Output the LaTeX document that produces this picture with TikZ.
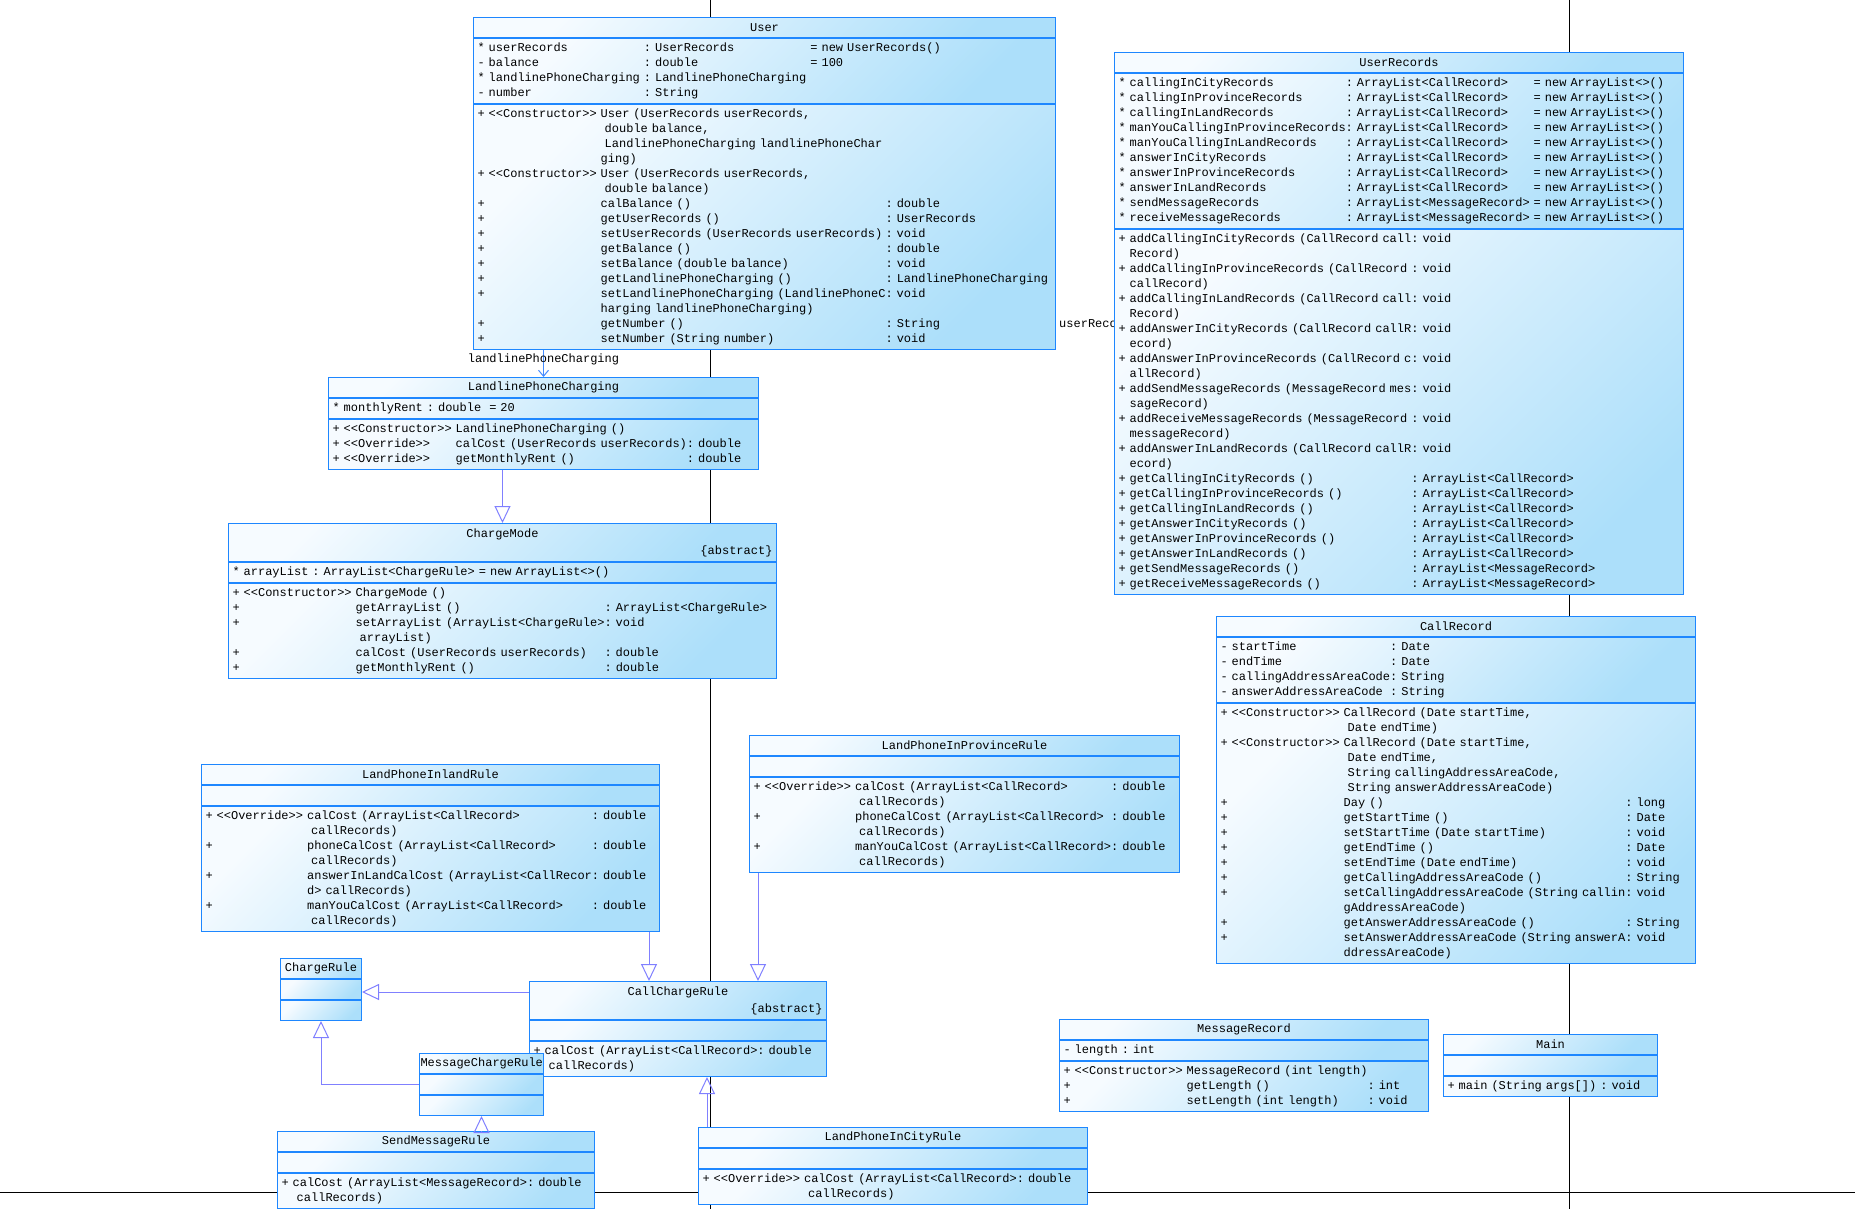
\documentclass[tikz,border=0pt]{standalone}
\usepackage{fontspec}
\usepackage{tikz}
\usetikzlibrary{arrows.meta, positioning}
\newfontfamily\umlfont{Liberation Mono}
\newcommand{\umlfnt}{\umlfont\fontsize{12}{15}\selectfont\frenchspacing}
\definecolor{umlborder}{RGB}{30,135,255}
\definecolor{umlpale}{RGB}{246,251,255}
\definecolor{umlblue}{RGB}{172,223,250}
\definecolor{umlline}{RGB}{128,128,255}
\definecolor{umlassoc}{RGB}{70,140,255}
\newcommand{\stc}{<\kern0pt<Constructor>\kern0pt>}
\newcommand{\sto}{<\kern0pt<Override>\kern0pt>}

\begin{document}
\begin{tikzpicture}[x=1pt, y=-1pt, node distance=0pt,
    classpart/.style={draw=umlborder, line width=1pt, top color=umlpale, bottom color=umlblue, shading angle=45,
        inner xsep=4pt, inner ysep=2.5pt, anchor=north west, align=left, font=\umlfnt},
    classtitle/.style={classpart, align=center, minimum height=20pt},
    classempty/.style={classpart, minimum height=20pt},
    inherit/.style={draw=umlline, line width=1pt, -{Triangle[open, length=17pt, width=16pt]}},
    assoc/.style={draw=umlassoc, line width=1pt, -{Straight Barb[length=6pt, width=10pt]}},
    pageline/.style={draw=black, line width=0.9pt},
    rolename/.style={font=\umlfnt, inner sep=1pt}
]
    \path[use as bounding box, fill=white] (0,0) rectangle (1855,1209);

    % page borders
    \draw[pageline] (710,0) -- (710,1209);
    \draw[pageline] (1569,0) -- (1569,1209);
    \draw[pageline] (0,1192) -- (1855,1192);

    % User
    \node[classtitle, text width=574pt] (user) at (473,17) {User};
    \node[classpart, text width=574pt, below=of user] (user-at) {\begin{tabular}{@{}l@{~}l@{~}l@{~}l@{~}l@{}}
{*} & userRecords & : & UserRecords & = new UserRecords()\\
- & balance & : & double & = 100\\
{*} & landlinePhoneCharging & : & LandlinePhoneCharging & \\
- & number & : & String &
\end{tabular}};
    \node[classpart, text width=574pt, below=of user-at] (user-op) {\begin{tabular}{@{}l@{~}l@{~}l@{}l@{}}
+ & \stc & User (UserRecords userRecords, & \\
 & & ~double balance, & \\
 & & ~LandlinePhoneCharging landlinePhoneChar & \\
 & & ging) & \\
+ & \stc & User (UserRecords userRecords, & \\
 & & ~double balance) & \\
+ & & calBalance () & : double\\
+ & & getUserRecords () & : UserRecords\\
+ & & setUserRecords (UserRecords userRecords) & : void\\
+ & & getBalance () & : double\\
+ & & setBalance (double balance) & : void\\
+ & & getLandlinePhoneCharging () & : LandlinePhoneCharging\\
+ & & setLandlinePhoneCharging (LandlinePhoneC & : void\\
 & & harging landlinePhoneCharging) & \\
+ & & getNumber () & : String\\
+ & & setNumber (String number) & : void
\end{tabular}};
    \begin{scope}
        \clip (1056,300) rectangle (1114,340);
        \node[rolename, anchor=base west] (ur-role) at (1058,327) {userRecords};
    \end{scope}

    % UserRecords
    \node[classtitle, text width=561pt] (urec) at (1114,52) {UserRecords};
    \node[classpart, text width=561pt, below=of urec] (urec-at) {\begin{tabular}{@{}l@{~}l@{}l@{~}l@{~}l@{}}
{*} & callingInCityRecords & : & ArrayList<CallRecord> & = new ArrayList<>()\\
{*} & callingInProvinceRecords & : & ArrayList<CallRecord> & = new ArrayList<>()\\
{*} & callingInLandRecords & : & ArrayList<CallRecord> & = new ArrayList<>()\\
{*} & manYouCallingInProvinceRecords & : & ArrayList<CallRecord> & = new ArrayList<>()\\
{*} & manYouCallingInLandRecords & : & ArrayList<CallRecord> & = new ArrayList<>()\\
{*} & answerInCityRecords & : & ArrayList<CallRecord> & = new ArrayList<>()\\
{*} & answerInProvinceRecords & : & ArrayList<CallRecord> & = new ArrayList<>()\\
{*} & answerInLandRecords & : & ArrayList<CallRecord> & = new ArrayList<>()\\
{*} & sendMessageRecords & : & ArrayList<MessageRecord> & = new ArrayList<>()\\
{*} & receiveMessageRecords & : & ArrayList<MessageRecord> & = new ArrayList<>()
\end{tabular}};
    \node[classpart, text width=561pt, below=of urec-at] (urec-op) {\begin{tabular}{@{}l@{~}l@{}l@{}}
+ & addCallingInCityRecords (CallRecord call & : void\\
 & Record) & \\
+ & addCallingInProvinceRecords (CallRecord & : void\\
 & callRecord) & \\
+ & addCallingInLandRecords (CallRecord call & : void\\
 & Record) & \\
+ & addAnswerInCityRecords (CallRecord callR & : void\\
 & ecord) & \\
+ & addAnswerInProvinceRecords (CallRecord c & : void\\
 & allRecord) & \\
+ & addSendMessageRecords (MessageRecord mes & : void\\
 & sageRecord) & \\
+ & addReceiveMessageRecords (MessageRecord & : void\\
 & messageRecord) & \\
+ & addAnswerInLandRecords (CallRecord callR & : void\\
 & ecord) & \\
+ & getCallingInCityRecords () & : ArrayList<CallRecord>\\
+ & getCallingInProvinceRecords () & : ArrayList<CallRecord>\\
+ & getCallingInLandRecords () & : ArrayList<CallRecord>\\
+ & getAnswerInCityRecords () & : ArrayList<CallRecord>\\
+ & getAnswerInProvinceRecords () & : ArrayList<CallRecord>\\
+ & getAnswerInLandRecords () & : ArrayList<CallRecord>\\
+ & getSendMessageRecords () & : ArrayList<MessageRecord>\\
+ & getReceiveMessageRecords () & : ArrayList<MessageRecord>
\end{tabular}};

    % LandlinePhoneCharging
    \node[classtitle, text width=422pt] (lpc) at (328,377) {LandlinePhoneCharging};
    \node[classpart, text width=422pt, below=of lpc] (lpc-at) {\begin{tabular}{@{}l@{}}
{*} monthlyRent : double~~= 20
\end{tabular}};
    \node[classpart, text width=422pt, below=of lpc-at] (lpc-op) {\begin{tabular}{@{}l@{~}l@{~}l@{}l@{}}
+ & \stc & LandlinePhoneCharging () & \\
+ & \sto & calCost (UserRecords userRecords) & : double\\
+ & \sto & getMonthlyRent () & : double
\end{tabular}};

    % ChargeMode
    \node[classtitle, text width=540pt, minimum height=38pt] (cmode) at (228,523) {ChargeMode\\[2pt]\makebox[\linewidth][r]{\{abstract\}}};
    \node[classpart, text width=540pt, below=of cmode] (cmode-at) {\begin{tabular}{@{}l@{}}
{*} arrayList : ArrayList<ChargeRule> = new ArrayList<>()
\end{tabular}};
    \node[classpart, text width=540pt, below=of cmode-at] (cmode-op) {\begin{tabular}{@{}l@{~}l@{~}l@{}l@{}}
+ & \stc & ChargeMode () & \\
+ & & getArrayList () & : ArrayList<ChargeRule>\\
+ & & setArrayList (ArrayList<ChargeRule> & : void\\
 & & ~arrayList) & \\
+ & & calCost (UserRecords userRecords) & : double\\
+ & & getMonthlyRent () & : double
\end{tabular}};

    % CallRecord
    \node[classtitle, text width=471pt] (crec) at (1216,616) {CallRecord};
    \node[classpart, text width=471pt, below=of crec] (crec-at) {\begin{tabular}{@{}l@{~}l@{}l@{}}
- & startTime & : Date\\
- & endTime & : Date\\
- & callingAddressAreaCode & : String\\
- & answerAddressAreaCode & : String
\end{tabular}};
    \node[classpart, text width=471pt, below=of crec-at] (crec-op) {\begin{tabular}{@{}l@{~}l@{~}l@{}l@{}}
+ & \stc & CallRecord (Date startTime, & \\
 & & ~Date endTime) & \\
+ & \stc & CallRecord (Date startTime, & \\
 & & ~Date endTime, & \\
 & & ~String callingAddressAreaCode, & \\
 & & ~String answerAddressAreaCode) & \\
+ & & Day () & : long\\
+ & & getStartTime () & : Date\\
+ & & setStartTime (Date startTime) & : void\\
+ & & getEndTime () & : Date\\
+ & & setEndTime (Date endTime) & : void\\
+ & & getCallingAddressAreaCode () & : String\\
+ & & setCallingAddressAreaCode (String callin & : void\\
 & & gAddressAreaCode) & \\
+ & & getAnswerAddressAreaCode () & : String\\
+ & & setAnswerAddressAreaCode (String answerA & : void\\
 & & ddressAreaCode) &
\end{tabular}};

    % LandPhoneInlandRule
    \node[classtitle, text width=450pt] (inland) at (201,764) {LandPhoneInlandRule};
    \node[classempty, text width=450pt, below=of inland] (inland-at) {};
    \node[classpart, text width=450pt, below=of inland-at] (inland-op) {\begin{tabular}{@{}l@{~}l@{~}l@{}l@{}}
+ & \sto & calCost (ArrayList<CallRecord> & : double\\
 & & ~callRecords) & \\
+ & & phoneCalCost (ArrayList<CallRecord> & : double\\
 & & ~callRecords) & \\
+ & & answerInLandCalCost (ArrayList<CallRecor & : double\\
 & & d> callRecords) & \\
+ & & manYouCalCost (ArrayList<CallRecord> & : double\\
 & & ~callRecords) &
\end{tabular}};

    % LandPhoneInProvinceRule
    \node[classtitle, text width=422pt] (prov) at (749,735) {LandPhoneInProvinceRule};
    \node[classempty, text width=422pt, below=of prov] (prov-at) {};
    \node[classpart, text width=422pt, below=of prov-at] (prov-op) {\begin{tabular}{@{}l@{~}l@{~}l@{}l@{}}
+ & \sto & calCost (ArrayList<CallRecord> & : double\\
 & & ~callRecords) & \\
+ & & phoneCalCost (ArrayList<CallRecord> & : double\\
 & & ~callRecords) & \\
+ & & manYouCalCost (ArrayList<CallRecord> & : double\\
 & & ~callRecords) &
\end{tabular}};

    % ChargeRule
    \node[classtitle, text width=73pt] (crule) at (280,958) {ChargeRule};
    \node[classempty, text width=73pt, below=of crule] (crule-at) {};
    \node[classempty, text width=73pt, below=of crule-at] (crule-op) {};

    % CallChargeRule
    \node[classtitle, text width=289pt, minimum height=38pt] (ccr) at (529,981) {CallChargeRule\\[2pt]\makebox[\linewidth][r]{\{abstract\}}};
    \node[classempty, text width=289pt, below=of ccr] (ccr-at) {};
    \node[classpart, text width=289pt, below=of ccr-at] (ccr-op) {\begin{tabular}{@{}l@{~}l@{}l@{}}
+ & calCost (ArrayList<CallRecord> & : double\\
 & ~callRecords) &
\end{tabular}};

    % MessageChargeRule
    \node[classtitle, text width=122pt, inner xsep=1pt] (mcr) at (419,1053) {MessageChargeRule};
    \node[classempty, text width=122pt, inner xsep=1pt, below=of mcr] (mcr-at) {};
    \node[classempty, text width=122pt, inner xsep=1pt, below=of mcr-at] (mcr-op) {};

    % SendMessageRule
    \node[classtitle, text width=309pt] (smr) at (277,1131) {SendMessageRule};
    \node[classempty, text width=309pt, below=of smr] (smr-at) {};
    \node[classpart, text width=309pt, below=of smr-at] (smr-op) {\begin{tabular}{@{}l@{~}l@{}l@{}}
+ & calCost (ArrayList<MessageRecord> & : double\\
 & ~callRecords) &
\end{tabular}};

    % LandPhoneInCityRule
    \node[classtitle, text width=381pt] (city) at (698,1127) {LandPhoneInCityRule};
    \node[classempty, text width=381pt, below=of city] (city-at) {};
    \node[classpart, text width=381pt, below=of city-at] (city-op) {\begin{tabular}{@{}l@{~}l@{~}l@{}l@{}}
+ & \sto & calCost (ArrayList<CallRecord> & : double\\
 & & ~callRecords) &
\end{tabular}};

    % MessageRecord
    \node[classtitle, text width=361pt] (mrec) at (1059,1019) {MessageRecord};
    \node[classpart, text width=361pt, below=of mrec] (mrec-at) {\begin{tabular}{@{}l@{}}
- length : int
\end{tabular}};
    \node[classpart, text width=361pt, below=of mrec-at] (mrec-op) {\begin{tabular}{@{}l@{~}l@{~}l@{}l@{}}
+ & \stc & MessageRecord (int length) & \\
+ & & getLength () & : int\\
+ & & setLength (int length) & : void
\end{tabular}};

    % Main
    \node[classtitle, text width=206pt] (main) at (1443,1034) {Main};
    \node[classempty, text width=206pt, below=of main] (main-at) {};
    \node[classpart, text width=206pt, below=of main-at] (main-op) {\begin{tabular}{@{}l@{}}
+ main (String args[]) : void
\end{tabular}};

    % connectors
    \coordinate (inlandx) at (649,0);
    \coordinate (provx) at (758,0);
    \coordinate (cityx) at (707,0);
    \coordinate (ccry) at (0,992);
    \draw[assoc] (user-op.south -| lpc.north) -- node[rolename, pos=0, anchor=north, yshift=-2pt] (lpc-role) {landlinePhoneCharging} (lpc.north);
    \draw[inherit] (lpc-op.south -| cmode.north) -- (cmode.north);
    \draw[inherit] (inland-op.south -| inlandx) -- (ccr.north -| inlandx);
    \draw[inherit] (prov-op.south -| provx) -- (ccr.north -| provx);
    \draw[inherit] (ccr.west |- ccry) -- (crule.east |- ccry);
    \draw[inherit] (mcr-at.west) -| (crule-op.south);
    \draw[inherit] (smr.north -| mcr-op.south) -- (mcr-op.south);
    \draw[inherit] (city.north -| cityx) -- (ccr-op.south -| cityx);
\end{tikzpicture}
\end{document}
